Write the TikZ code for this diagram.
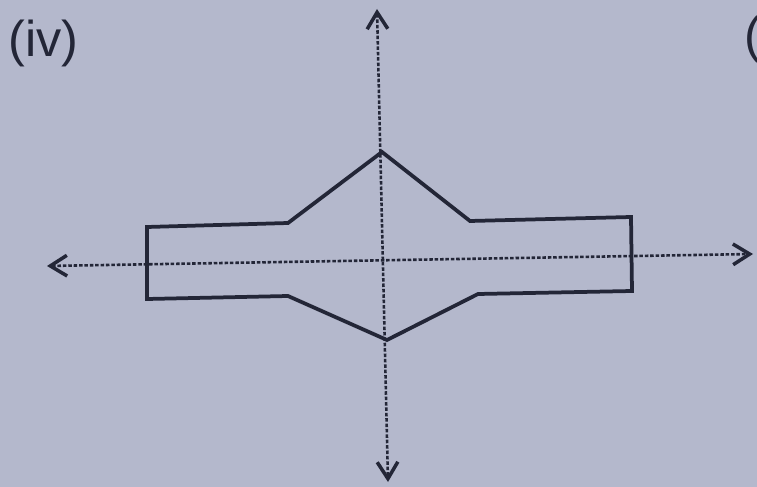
\documentclass[tikz,border=0pt]{standalone}
\usepackage{fontspec}
\setmainfont{Liberation Sans}
\usetikzlibrary{arrows.meta}
\definecolor{paper}{RGB}{180,184,204}
\definecolor{ink}{RGB}{35,38,55}
\begin{document}
\begin{tikzpicture}[x=0.03cm,y=-0.03cm,
  axis/.style={ink,line width=2.2pt,dash pattern=on 3pt off 1.6pt,
    arrows={Straight Barb[length=0.5cm,width=0.62cm,line width=3pt]-Straight Barb[length=0.5cm,width=0.62cm,line width=3pt]}},
  outline/.style={ink,line width=3.2pt,line join=miter},
  label/.style={ink,inner sep=0pt,anchor=base west,font=\fontsize{43}{50}\selectfont}]
% Hintergrund
\fill[paper] (0,0) rectangle (757,487);
\useasboundingbox (0,0) rectangle (757,487);
% Beschriftung
\node[label] (num) at (8,57) {(iv)};
\node[label] (next) at (744,53) {(};
% Achsen
\coordinate (xl) at (47,266);
\coordinate (xr) at (753,254);
\coordinate (yt) at (377,9);
\coordinate (yb) at (388,482);
\draw[axis] (xl) -- (xr);
\draw[axis] (yt) -- (yb);
% Profil
\draw[outline] (147,227) -- (288,223) -- (382,152) -- (470,221) -- (631,217)
  -- (632,291) -- (478,294) -- (387,340) -- (288,296) -- (147,299) -- cycle;
\end{tikzpicture}
\end{document}
